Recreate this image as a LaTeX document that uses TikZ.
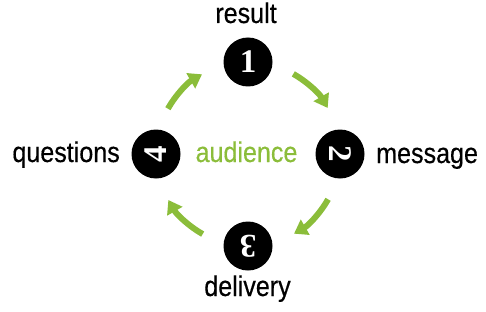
\documentclass[tikz,border=0pt]{standalone}
\usepackage{fontspec}
\setmainfont{Liberation Sans}[FakeStretch=0.88,FakeBold=0.4]
\newfontfamily\numfont{Liberation Serif}
\usetikzlibrary{arrows.meta,calc}
\definecolor{audgreen}{RGB}{139,189,58}
\tikzset{
  numdot/.style={circle,fill=black,text=white,minimum size=49pt,inner sep=0pt,
    font=\numfont\bfseries\fontsize{33}{34}\selectfont},
  steplabel/.style={inner sep=0pt},
  flow/.style={audgreen,line width=6pt,-{Triangle[width=17pt,length=13pt]}}
}
\begin{document}
\begin{tikzpicture}[x=1pt,y=1pt,declare function={r=92;},font=\fontsize{28.5}{30}\selectfont]
	\useasboundingbox (0,0) rectangle (486,311);
	\path (248,157) coordinate (O);
	\foreach \i/\ang in {1/90,2/0,3/-90,4/180}{
		\node[numdot,rotate=\ang-90] (c\i) at ($(O)+(\ang:r)$) {\i};
	}
	% arrows round the audience
	\foreach \ang in {90,0,-90,-180}{
		\draw[flow] ($(O)+(\ang-29.5:r)$) arc[start angle=\ang-29.5,end angle=\ang-60,radius=r];
	}
	\node[steplabel,anchor=base] (result) at (246,288) {result};
	\node[steplabel,anchor=base west] (message) at (376,148) {message};
	\node[steplabel,anchor=base] (delivery) at (247.5,15) {delivery};
	\node[steplabel,anchor=base east] (questions) at (120,149) {questions};
	\node[steplabel,anchor=base,text=audgreen] (audience) at (246.5,149) {audience};
\end{tikzpicture}
\end{document}
